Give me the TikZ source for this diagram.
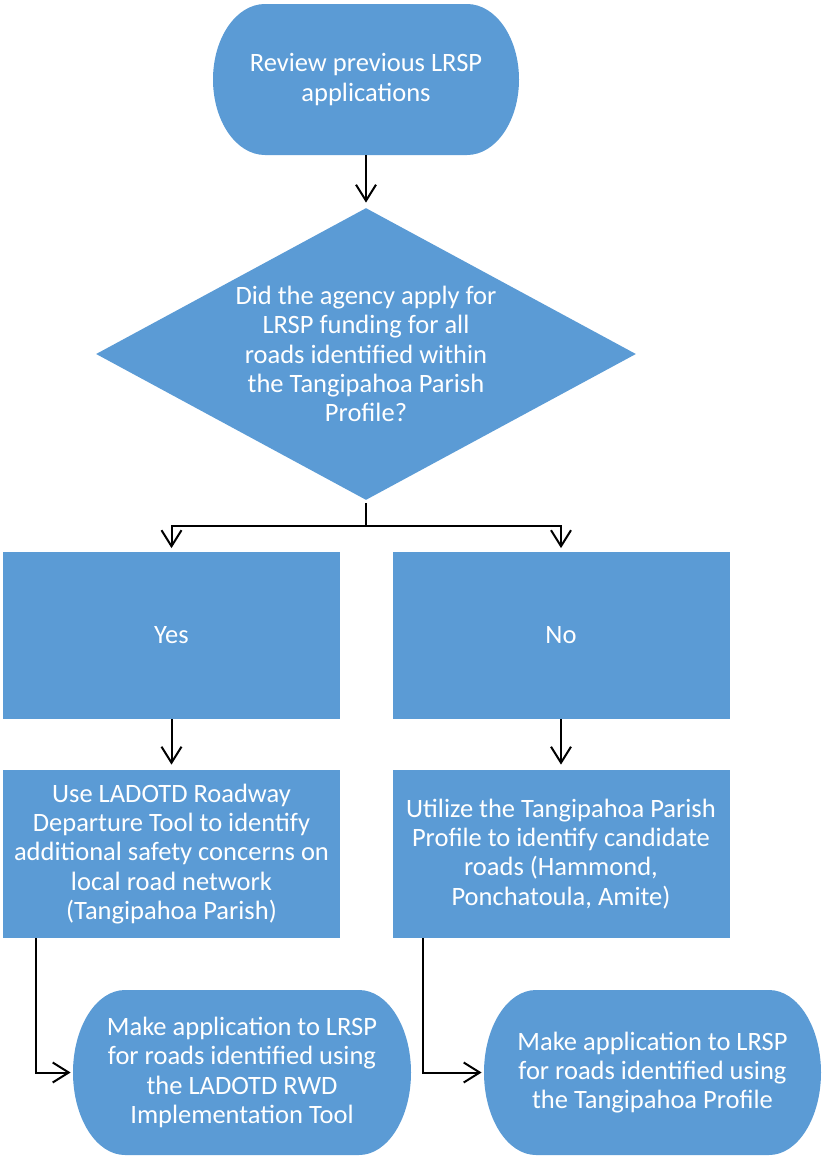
\documentclass[tikz,border=0pt]{standalone}
\usepackage{fontspec}
\setmainfont{Carlito}
\usetikzlibrary{positioning,calc,arrows.meta,shapes.geometric}
\definecolor{boxblue}{HTML}{5B9BD5}
\tikzset{font=\fontsize{13.25}{14.6}\selectfont}
\tikzset{
	box/.style={fill=boxblue, text=white, align=center, inner sep=1pt,
		minimum width=168.5pt, minimum height=83.5pt},
	term/.style={text=white, align=center, inner sep=1pt,
		path picture={\fill[boxblue] let \p1=(path picture bounding box.north east),
			\p2=(path picture bounding box.south west) in
			([xshift=26pt]path picture bounding box.north west)
			-- ([xshift=-26pt]path picture bounding box.north east)
			arc[start angle=90, end angle=-90, x radius=26pt, y radius={0.5*(\y1-\y2)}]
			-- ([xshift=26pt]path picture bounding box.south west)
			arc[start angle=270, end angle=90, x radius=26pt, y radius={0.5*(\y1-\y2)}]
			-- cycle;}},
	ask/.style={diamond, fill=boxblue, text=white, align=center, inner sep=0pt,
		aspect=1.85, minimum width=270pt, minimum height=146pt},
	arr/.style={-{Straight Barb[length=8pt, width=10pt]}, line width=1pt, black}
}

\begin{document}
\begin{tikzpicture}[x=0.5pt, y=0.5pt]
	\useasboundingbox (0,0) rectangle (821,-1157);

	\node[term, minimum width=153pt, minimum height=75.5pt] (start) at (366,-79.5)
		{Review previous LRSP\\applications};
	\node[ask] (ask) at (366,-354)
		{Did the agency apply for\\LRSP funding for all\\roads identified within\\the Tangipahoa Parish\\Profile?};
	\node[box] (yes) at (171.5,-635) {Yes};
	\node[box] (no) at (561,-635) {No};
	\node[box, minimum height=84pt] (use) at (171.5,-854)
		{Use LADOTD Roadway\\Departure Tool to identify\\additional safety concerns on\\local road network\\(Tangipahoa Parish)};
	\node[box, minimum height=84pt] (util) at (561,-854)
		{Utilize the Tangipahoa Parish\\Profile to identify candidate\\roads (Hammond,\\Ponchatoula, Amite)};
	\node[term, minimum width=169pt, minimum height=82.5pt] (rwd) at (242,-1072.5)
		{Make application to LRSP\\for roads identified using\\the LADOTD RWD\\Implementation Tool};
	\node[term, minimum width=168.5pt, minimum height=82.5pt] (prof) at (652.5,-1072.5)
		{Make application to LRSP\\for roads identified using\\the Tangipahoa Profile};

	\draw[arr, shorten >=2.5pt] (start) -- (ask);
	\draw[arr, shorten <=1.5pt, shorten >=1.5pt] (ask.south) -- ++(0,-26) -| (yes.north);
	\draw[arr, shorten <=1.5pt, shorten >=1.5pt] (ask.south) -- ++(0,-26) -| (no.north);
	\draw[arr, shorten >=2.5pt] (yes) -- (use);
	\draw[arr, shorten >=2.5pt] (no) -- (util);
	\draw[arr, shorten >=1pt] ([xshift=16.5pt]use.south west) |- (rwd.west);
	\draw[arr, shorten >=1pt] ([xshift=15.5pt]util.south west) |- (prof.west);
\end{tikzpicture}
\end{document}
